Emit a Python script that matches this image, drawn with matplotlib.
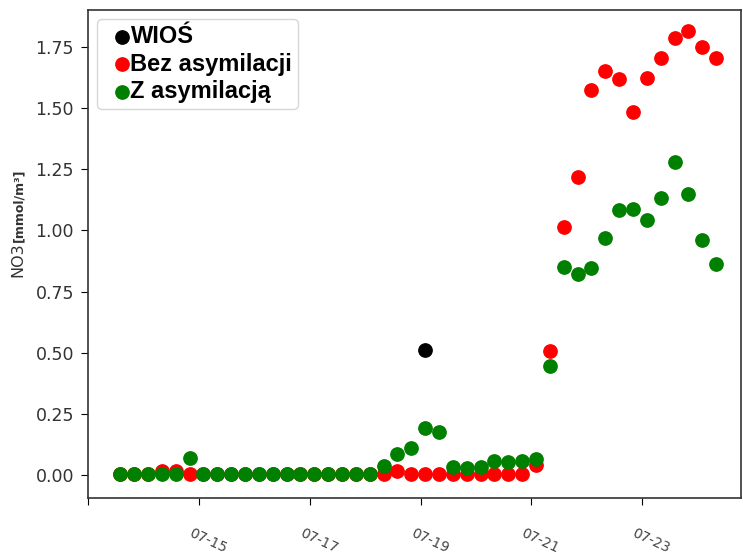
import matplotlib
matplotlib.use("Agg")
import matplotlib.pyplot as plt
import matplotlib.transforms as mtransforms
from matplotlib.font_manager import FontProperties
import pandas as pd

# 6-hourly model output
times = pd.date_range("2021-07-13 14:00", periods=44, freq="6h")

bez_asymilacji = [
    0.003, 0.003, 0.003, 0.018, 0.018, 0.005, 0.003, 0.003, 0.003, 0.003, 0.003,
    0.003, 0.003, 0.003, 0.003, 0.003, 0.003, 0.003, 0.003, 0.003, 0.015, 0.003,
    0.003, 0.003, 0.003, 0.003, 0.003, 0.003, 0.003, 0.003, 0.040, 0.507,
    1.015, 1.218, 1.574, 1.653, 1.619, 1.485, 1.624, 1.706, 1.788, 1.815, 1.751, 1.706,
]
z_asymilacja = [
    0.006, 0.006, 0.006, 0.006, 0.006, 0.070, 0.006, 0.006, 0.006, 0.006, 0.006,
    0.006, 0.006, 0.006, 0.006, 0.006, 0.006, 0.006, 0.006, 0.037, 0.087, 0.110,
    0.193, 0.177, 0.032, 0.027, 0.031, 0.058, 0.055, 0.059, 0.064, 0.446,
    0.850, 0.820, 0.848, 0.968, 1.083, 1.087, 1.043, 1.134, 1.278, 1.149, 0.961, 0.861,
]

# in-situ measurement
wios_times = [times[22]]
wios_values = [0.51]

tick_dates = pd.to_datetime(["2021-07-13", "2021-07-15", "2021-07-17",
                             "2021-07-19", "2021-07-21", "2021-07-23"])
tick_labels = ["", "07-15", "07-17", "07-19", "07-21", "07-23"]
y_ticks = [0.0, 0.25, 0.5, 0.75, 1.0, 1.25, 1.5, 1.75]

fig = plt.figure(figsize=(7.43, 5.56), dpi=100)
ax = fig.add_axes([88 / 743, 1 - 498 / 556, (741 - 88) / 743, (498 - 10) / 556])

ms = 92
ax.scatter(wios_times, wios_values, s=ms, color="black", label="WIOŚ", zorder=3)
ax.scatter(times, bez_asymilacji, s=ms, color="#ff0000", label="Bez asymilacji", zorder=3)
ax.scatter(times, z_asymilacja, s=ms, color="green", label="Z asymilacją", zorder=3)

ax.set_xlim(pd.Timestamp("2021-07-13 00:00"), pd.Timestamp("2021-07-24 18:45"))
ax.set_ylim(-0.094, 1.901)

ax.set_yticks(y_ticks)
ax.set_yticklabels([f"{v:.2f}" for v in y_ticks])
ax.tick_params(axis="y", labelsize=12.5, labelcolor="#333333", pad=5, length=5)

ax.set_xticks(tick_dates)
ax.set_xticklabels(tick_labels, rotation=-25, fontsize=10, color="#444444")
ax.tick_params(axis="x", pad=15, length=5)
shift = mtransforms.ScaledTranslation(0.09, 0, fig.dpi_scale_trans)
for lbl in ax.get_xticklabels():
    lbl.set_transform(lbl.get_transform() + shift)

for sp in ax.spines.values():
    sp.set_linewidth(1.2)
    sp.set_color("#333333")

# y-axis label: quantity plus smaller bold unit
t_main = fig.text(25 / 743, 1 - 277 / 556, "NO3", rotation=90, ha="right",
                  va="bottom", fontsize=11.5, color="#333333")
fig.canvas.draw()
ax.annotate("[mmol/m³]", xy=(1, 1), xycoords=t_main, rotation=90,
            ha="right", va="bottom", fontsize=9, fontweight="bold",
            color="#333333", annotation_clip=False)

leg = ax.legend(loc="upper left",
                prop=FontProperties(family="Liberation Sans", weight="bold", size=17),
                handlelength=1.6, handletextpad=-0.43, borderpad=0.25,
                labelspacing=0.2, borderaxespad=0.38, scatterpoints=1)

fig.savefig("out.png", dpi=100)
